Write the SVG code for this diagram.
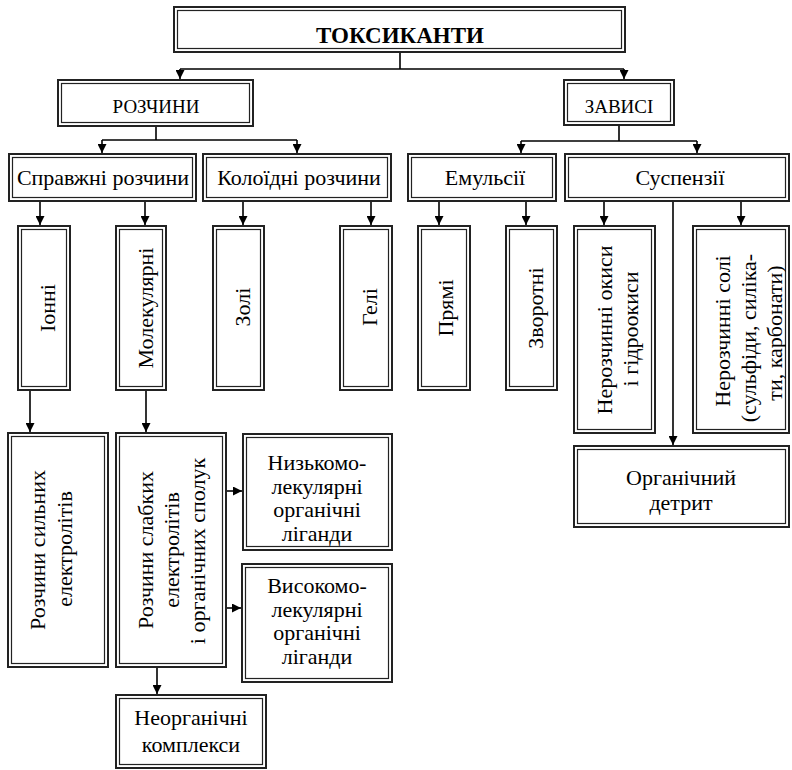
<svg xmlns="http://www.w3.org/2000/svg" width="792" height="770" viewBox="0 0 792 770">
<style>
.o{fill:#fff;stroke:#222;stroke-width:2}
.i{fill:none;stroke:#222;stroke-width:1.2}
.t{font-family:"Liberation Serif","Times New Roman",serif;font-size:22px;fill:#000;text-anchor:middle}
.s{font-size:19px}
.b{font-size:23px;font-weight:bold}
.c{fill:none;stroke:#000;stroke-width:1.6}
.a{marker-end:url(#ah)}
</style>
<defs>
<marker id="ah" markerUnits="userSpaceOnUse" markerWidth="9" markerHeight="9" refX="9" refY="4.5" orient="auto">
<path d="M0,0 L9,4.5 L0,9 z" fill="#000"/>
</marker>
<clipPath id="clipSoli"><rect x="696" y="229" width="90" height="201"/></clipPath>
</defs>

<g id="connectors">
<path class="c" d="M400,53 V69 M180,69 H624"/>
<path class="c a" d="M180,69 V79"/>
<path class="c a" d="M624,69 V79"/>
<path class="c" d="M156,127 V140 M102,140 H297"/>
<path class="c a" d="M102,140 V153"/>
<path class="c a" d="M297,140 V153"/>
<path class="c" d="M619,126 V141 M521,141 H697"/>
<path class="c a" d="M521,141 V153"/>
<path class="c a" d="M697,141 V153"/>
<path class="c a" d="M40,202 V225"/>
<path class="c a" d="M145,202 V225"/>
<path class="c a" d="M243,202 V225"/>
<path class="c a" d="M371,202 V225"/>
<path class="c a" d="M439,202 V225"/>
<path class="c a" d="M526,202 V225"/>
<path class="c a" d="M604,202 V225"/>
<path class="c a" d="M741,202 V225"/>
<path class="c a" d="M673,202 V445"/>
<path class="c a" d="M30,391 V432"/>
<path class="c a" d="M146,391 V432"/>
<path class="c a" d="M227,491 H242"/>
<path class="c a" d="M227,608 H241"/>
<path class="c a" d="M157,668 V694"/>
</g>

<g id="toksykanty">
<rect class="o" x="174" y="7" width="451" height="45"/>
<rect class="i" x="177.5" y="10.5" width="444" height="38"/>
<text class="t b" x="400" y="43">ТОКСИКАНТИ</text>
</g>
<g id="rozchyny">
<rect class="o" x="58" y="80" width="195" height="46"/>
<rect class="i" x="61.5" y="83.5" width="188" height="39"/>
<text class="t s" x="156" y="113">РОЗЧИНИ</text>
</g>
<g id="zavisi">
<rect class="o" x="564" y="80" width="110" height="45"/>
<rect class="i" x="567.5" y="83.5" width="103" height="38"/>
<text class="t s" x="619" y="113">ЗАВИСІ</text>
</g>
<g id="spravzhni">
<rect class="o" x="9" y="154" width="187" height="47"/>
<rect class="i" x="12.5" y="157.5" width="180" height="40"/>
<text class="t" x="103" y="185">Справжні розчини</text>
</g>
<g id="koloidni">
<rect class="o" x="203" y="154" width="188" height="47"/>
<rect class="i" x="206.5" y="157.5" width="181" height="40"/>
<text class="t" x="299" y="185">Колоїдні розчини</text>
</g>
<g id="emulsii">
<rect class="o" x="408" y="154" width="148" height="47"/>
<rect class="i" x="411.5" y="157.5" width="141" height="40"/>
<text class="t" x="485" y="185">Емульсії</text>
</g>
<g id="suspenzii">
<rect class="o" x="565" y="154" width="224" height="47"/>
<rect class="i" x="568.5" y="157.5" width="217" height="40"/>
<text class="t" x="680" y="185">Суспензії</text>
</g>

<g id="ionni">
<rect class="o" x="18" y="226" width="52" height="164"/>
<rect class="i" x="21.5" y="229.5" width="45" height="157"/>
<text class="t" transform="translate(55,308) rotate(-90)">Іонні</text>
</g>
<g id="molekuliarni">
<rect class="o" x="116" y="226" width="50" height="164"/>
<rect class="i" x="119.5" y="229.5" width="43" height="157"/>
<text class="t" transform="translate(153,308) rotate(-90)">Молекулярні</text>
</g>
<g id="zoli">
<rect class="o" x="213" y="226" width="51" height="164"/>
<rect class="i" x="216.5" y="229.5" width="44" height="157"/>
<text class="t" transform="translate(250,307) rotate(-90)">Золі</text>
</g>
<g id="heli">
<rect class="o" x="340" y="226" width="52" height="164"/>
<rect class="i" x="343.5" y="229.5" width="45" height="157"/>
<text class="t" transform="translate(377,307) rotate(-90)">Гелі</text>
</g>
<g id="priami">
<rect class="o" x="418" y="226" width="52" height="164"/>
<rect class="i" x="421.5" y="229.5" width="45" height="157"/>
<text class="t" transform="translate(453,308) rotate(-90)">Прямі</text>
</g>
<g id="zvorotni">
<rect class="o" x="506" y="226" width="51" height="164"/>
<rect class="i" x="509.5" y="229.5" width="44" height="157"/>
<text class="t" transform="translate(543,308) rotate(-90)">Зворотні</text>
</g>
<g id="okysy">
<rect class="o" x="574" y="226" width="81" height="207"/>
<rect class="i" x="577.5" y="229.5" width="74" height="200"/>
<text class="t" transform="translate(612,330) rotate(-90)">Нерозчинні окиси</text>
<text class="t" transform="translate(638,329) rotate(-90)">і гідроокиси</text>
</g>
<g id="soli">
<rect class="o" x="693" y="226" width="96" height="207"/>
<rect class="i" x="696.5" y="229.5" width="89" height="200"/>
<g clip-path="url(#clipSoli)">
<text class="t" transform="translate(730,331) rotate(-90)">Нерозчинні солі</text>
<text class="t" transform="translate(756,338) rotate(-90)">(сульфіди, силіка-</text>
<text class="t" transform="translate(782,333) rotate(-90)">ти, карбонати)</text>
</g>
</g>
<g id="detryt">
<rect class="o" x="574" y="446" width="215" height="81"/>
<rect class="i" x="577.5" y="449.5" width="208" height="74"/>
<text class="t" x="681" y="485">Органічний</text>
<text class="t" x="681" y="510">детрит</text>
</g>

<g id="sylnykh">
<rect class="o" x="8" y="433" width="100" height="234"/>
<rect class="i" x="11.5" y="436.5" width="93" height="227"/>
<text class="t" transform="translate(45,550) rotate(-90)">Розчини сильних</text>
<text class="t" transform="translate(72,549) rotate(-90)">електролітів</text>
</g>
<g id="slabkykh">
<rect class="o" x="116" y="433" width="110" height="234"/>
<rect class="i" x="119.5" y="436.5" width="103" height="227"/>
<text class="t" transform="translate(153,550) rotate(-90)">Розчини слабких</text>
<text class="t" transform="translate(179,550) rotate(-90)">електролітів</text>
<text class="t" transform="translate(205,551) rotate(-90)">і органічних сполук</text>
</g>
<g id="nyzkomolekuliarni">
<rect class="o" x="243" y="434" width="149" height="116"/>
<rect class="i" x="246.5" y="437.5" width="142" height="109"/>
<text class="t" x="317" y="470">Низькомо-</text>
<text class="t" x="317" y="494">лекулярні</text>
<text class="t" x="317" y="517">органічні</text>
<text class="t" x="317" y="541">ліганди</text>
</g>
<g id="vysokomolekuliarni">
<rect class="o" x="242" y="564" width="150" height="118"/>
<rect class="i" x="245.5" y="567.5" width="143" height="111"/>
<text class="t" x="317" y="593">Високомо-</text>
<text class="t" x="317" y="617">лекулярні</text>
<text class="t" x="317" y="640">органічні</text>
<text class="t" x="317" y="664">ліганди</text>
</g>
<g id="neorganichni">
<rect class="o" x="116" y="695" width="150" height="73"/>
<rect class="i" x="119.5" y="698.5" width="143" height="66"/>
<text class="t" x="191" y="725">Неорганічні</text>
<text class="t" x="191" y="752">комплекси</text>
</g>
</svg>
